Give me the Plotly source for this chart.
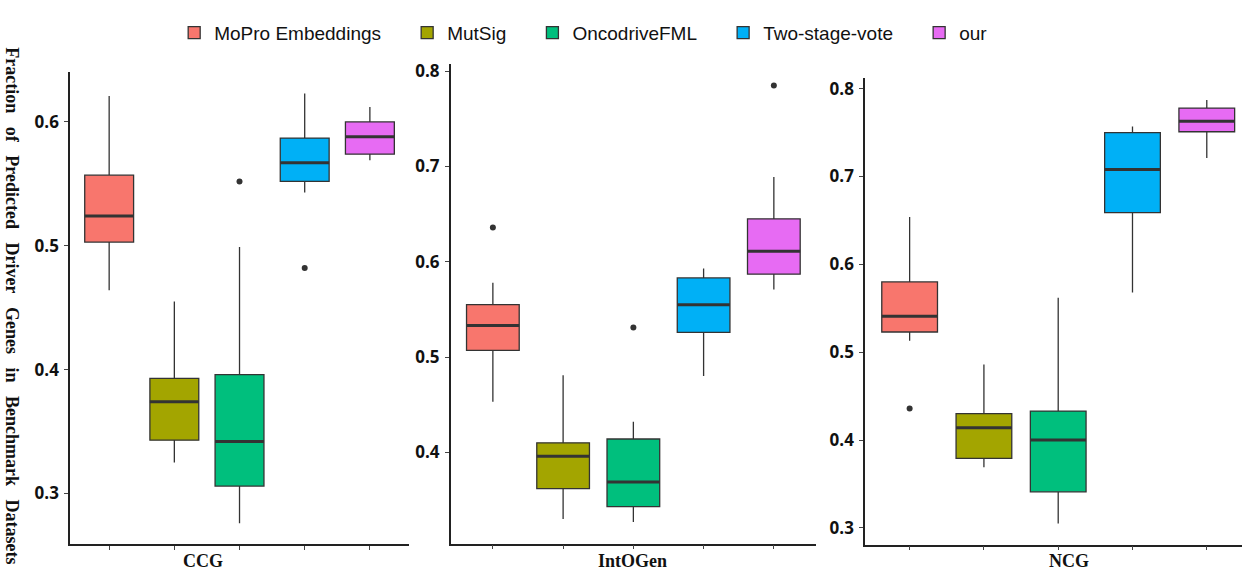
import plotly.graph_objects as go

# ---------------- data ----------------
methods = ["MoPro Embeddings", "MutSig", "OncodriveFML", "Two-stage-vote", "our"]
colors = ["#F8766D", "#A3A500", "#00BF7D", "#00B0F6", "#E76BF3"]
datasets = ["CCG", "IntOGen", "NCG"]

ccg_lower = [0.464, 0.325, 0.276, 0.543, 0.569]
ccg_q1 = [0.503, 0.343, 0.306, 0.552, 0.574]
ccg_median = [0.524, 0.374, 0.342, 0.567, 0.588]
ccg_q3 = [0.557, 0.393, 0.396, 0.587, 0.600]
ccg_upper = [0.621, 0.455, 0.499, 0.623, 0.612]
ccg_outliers = [[], [], [0.552], [0.482], []]

intogen_lower = [0.453, 0.330, 0.327, 0.480, 0.571]
intogen_q1 = [0.507, 0.362, 0.343, 0.526, 0.587]
intogen_median = [0.533, 0.396, 0.369, 0.555, 0.611]
intogen_q3 = [0.555, 0.410, 0.414, 0.583, 0.645]
intogen_upper = [0.578, 0.481, 0.432, 0.593, 0.689]
intogen_outliers = [[0.636], [], [0.531], [], [0.785]]

ncg_lower = [0.513, 0.369, 0.305, 0.568, 0.721]
ncg_q1 = [0.523, 0.379, 0.341, 0.659, 0.751]
ncg_median = [0.541, 0.414, 0.400, 0.708, 0.763]
ncg_q3 = [0.580, 0.430, 0.433, 0.750, 0.778]
ncg_upper = [0.654, 0.486, 0.562, 0.757, 0.787]
ncg_outliers = [[0.436], [], [], [], []]

ccg_ticks = [0.3, 0.4, 0.5, 0.6]
intogen_ticks = [0.4, 0.5, 0.6, 0.7, 0.8]
ncg_ticks = [0.3, 0.4, 0.5, 0.6, 0.7, 0.8]

y_title = "Fraction of Predicted Driver Genes in Benchmark Datasets"

# ---------------- figure ----------------
panels = [
    dict(lower=ccg_lower, q1=ccg_q1, med=ccg_median, q3=ccg_q3, upper=ccg_upper, out=ccg_outliers,
         ticks=ccg_ticks, xdom=[0.0564, 0.3293], ydom=[0.0456, 0.8807], yr=[0.259, 0.640],
         xr=[0.4, 5.6], label_x=203),
    dict(lower=intogen_lower, q1=intogen_q1, med=intogen_median, q3=intogen_q3, upper=intogen_upper,
         out=intogen_outliers, ticks=intogen_ticks, xdom=[0.3629, 0.6570], ydom=[0.0468, 0.8947],
         yr=[0.3043, 0.807], xr=[0.4, 5.6], label_x=632),
    dict(lower=ncg_lower, q1=ncg_q1, med=ncg_median, q3=ncg_q3, upper=ncg_upper, out=ncg_outliers,
         ticks=ncg_ticks, xdom=[0.6965, 1.0], ydom=[0.0451, 0.8702], yr=[0.281, 0.8118],
         xr=[0.4, 5.474], label_x=1069),
]

fig = go.Figure()
half = 0.375
for p_i, p in enumerate(panels):
    xa = "x" if p_i == 0 else f"x{p_i+1}"
    ya = "y" if p_i == 0 else f"y{p_i+1}"
    for m_i, name in enumerate(methods):
        pos = m_i + 1
        fig.add_trace(go.Box(
            x=[pos], q1=[p["q1"][m_i]], median=[p["med"][m_i]], q3=[p["q3"][m_i]],
            lowerfence=[p["lower"][m_i]], upperfence=[p["upper"][m_i]],
            name=name + "\u00a0\u00a0\u00a0\u00a0", legendgroup=name, showlegend=(p_i == 0),
            fillcolor=colors[m_i], line=dict(color="#333333", width=1.3),
            width=0.75, boxpoints=False, whiskerwidth=0,
            xaxis=xa, yaxis=ya, hoverinfo="skip",
        ))
        fig.add_trace(go.Scatter(
            x=[pos - half, pos + half], y=[p["med"][m_i]] * 2, mode="lines",
            line=dict(color="#333333", width=3), showlegend=False, hoverinfo="skip",
            xaxis=xa, yaxis=ya,
        ))
        if p["out"][m_i]:
            fig.add_trace(go.Scatter(
                x=[pos] * len(p["out"][m_i]), y=p["out"][m_i], mode="markers",
                marker=dict(color="#333333", size=6), showlegend=False, hoverinfo="skip",
                xaxis=xa, yaxis=ya,
            ))

layout = dict(
    width=1242, height=570,
    margin=dict(l=0, r=0, t=0, b=0),
    paper_bgcolor="white", plot_bgcolor="white",
    showlegend=True,
    legend=dict(orientation="h", x=0.478, xanchor="center", y=1 - 28 / 570, yanchor="middle",
                font=dict(family="Liberation Sans, Arial", size=19, color="#111111"),
                bgcolor="rgba(0,0,0,0)"),
)
for p_i, p in enumerate(panels):
    xk = "xaxis" if p_i == 0 else f"xaxis{p_i+1}"
    yk = "yaxis" if p_i == 0 else f"yaxis{p_i+1}"
    ya = "y" if p_i == 0 else f"y{p_i+1}"
    xa = "x" if p_i == 0 else f"x{p_i+1}"
    layout[xk] = dict(domain=p["xdom"], range=p["xr"], anchor=ya, showgrid=False, zeroline=False,
                      showline=True, linecolor="#222222", linewidth=1.5, ticks="outside",
                      ticklen=4, tickcolor="#444444", tickwidth=1, tickvals=[1, 2, 3, 4, 5],
                      showticklabels=False, fixedrange=True)
    layout[yk] = dict(domain=p["ydom"], range=p["yr"], anchor=xa, showgrid=False, zeroline=False,
                      showline=True, linecolor="#222222", linewidth=1.5, ticks="outside",
                      ticklen=4, tickcolor="#444444", tickwidth=1,
                      tickvals=p["ticks"], ticktext=[f"{t:.1f}" for t in p["ticks"]],
                      tickfont=dict(family="Open Sans, Arial", size=17, color="#111111", weight="bold"),
                      ticklabelstandoff=2, fixedrange=True)
fig.update_layout(**layout)

annotations = []
for p_i, p in enumerate(panels):
    annotations.append(dict(
        text="<b>" + datasets[p_i] + "</b>", x=p["label_x"] / 1242, y=1 - 561 / 570,
        xref="paper", yref="paper", xanchor="center", yanchor="middle", showarrow=False,
        font=dict(family="Liberation Serif, Times New Roman", size=18, color="#111111"),
    ))
annotations.append(dict(
    text="<b>" + y_title.replace(" ", "\u00a0\u00a0\u00a0") + "</b>",
    x=12 / 1242, y=1 - 303 / 570, xref="paper", yref="paper", xanchor="center", yanchor="middle",
    textangle=90, showarrow=False,
    font=dict(family="Liberation Serif, Times New Roman", size=18, color="#111111"),
))
fig.update_layout(annotations=annotations)

fig.write_html("out.html")
